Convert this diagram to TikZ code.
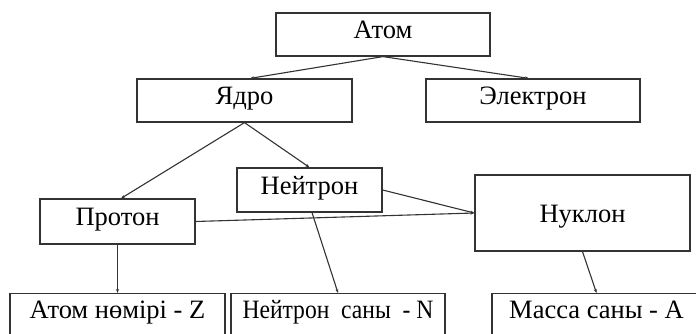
\documentclass[tikz,border=0pt]{standalone}
\usepackage{fontspec}
\setmainfont{Liberation Serif}
\newfontfamily\condserif[FakeStretch=0.89]{Liberation Serif}
\usetikzlibrary{arrows.meta}
\begin{document}
\begin{tikzpicture}[x=1pt,y=-1pt,
  box/.style={draw=black!80, line width=1.2pt, inner sep=0pt, text=black,
    font=\fontsize{26.5}{30}\selectfont, text height=18pt, text depth=10pt},
  lowbox/.style={box, anchor=north, text height=25pt, text depth=40pt},
  conn/.style={draw=black!80, line width=1.1pt, -{Stealth[length=4pt,width=3pt]}}]
\useasboundingbox (0,0) rectangle (696,334);
\clip (0,0) rectangle (696,334);
\fill[white] (0,0) rectangle (696,334);
\node[box, minimum width=214pt, minimum height=43pt] (atom) at (383,34.5) {Атом};
\node[box, minimum width=215pt, minimum height=43pt] (yadro) at (244.5,100.5) {Ядро};
\node[box, minimum width=214pt, minimum height=43pt] (elec) at (533,100.5) {Электрон};
\node[box, minimum width=145pt, minimum height=44pt] (neut) at (309.5,190) {Нейтрон};
\node[box, minimum width=155pt, minimum height=45pt] (prot) at (117.5,221.5) {Протон};
\node[box, minimum width=215pt, minimum height=76pt, text height=20pt, text depth=2pt] (nukl) at (582.5,213) {Нуклон};
\node[lowbox, minimum width=215pt] (an) at (117.5,293) {Атом нөмірі - Z};
\node[lowbox, minimum width=214pt, font=\condserif\fontsize{26.5}{30}\selectfont] (ns) at (338,293) {Нейтрон\ \ саны\ \ - N};
\node[lowbox, minimum width=209pt] (ms) at (596.5,293) {Масса саны - A};
\draw[conn] (atom.south) -- ([xshift=5.5pt]yadro.north);
\draw[conn] (atom.south) -- ([xshift=-4pt]elec.north);
\draw[conn] (yadro.south) -- ([xshift=3.5pt]prot.north);
\draw[conn] (yadro.south) -- (neut.north);
\draw[conn] (neut.east) -- (nukl.west);
\draw[conn] (prot.east) -- (nukl.west);
\draw[conn] (prot.south) -- (an.north);
\draw[conn] ([xshift=2.5pt]neut.south) -- (ns.north);
\draw[conn] (nukl.south) -- (ms.north);
\end{tikzpicture}
\end{document}
